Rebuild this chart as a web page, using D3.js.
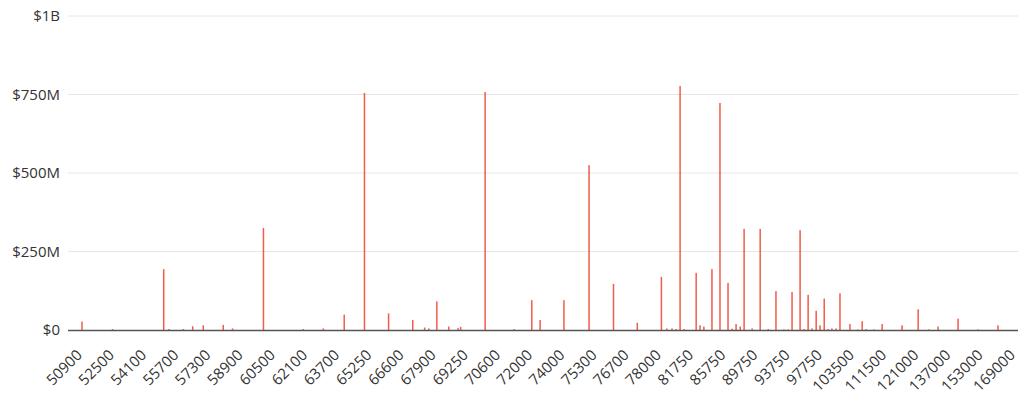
<!DOCTYPE html>
<html><head><meta charset="utf-8">
<script src="https://cdn.jsdelivr.net/npm/d3@7"></script>
<style>body{margin:0;background:#fff}text{font-family:"Open Sans",sans-serif}</style>
</head><body><svg id="c" width="1024" height="411"></svg>
<script>
const tickLabels=["50900","52500","54100","55700","57300","58900","60500","62100","63700","65250","66600","67900","69250","70600","72000","74000","75300","76700","78000","81750","85750","89750","93750","97750","103500","111500","121000","137000","153000","169000"];
// bar position in tick-label units (0 = first label), value in dollars (millions)
const barPos=[0,0.95,2.54,2.70,3.15,3.44,3.77,4.39,4.68,5.64,6.88,7.50,8.15,8.78,9.53,10.28,10.65,10.78,11.03,11.40,11.69,11.77,12.53,13.43,13.98,14.24,14.98,15.76,16.52,17.26,18.01,18.18,18.34,18.47,18.59,18.72,19.09,19.21,19.33,19.58,19.83,20.08,20.21,20.33,20.46,20.58,20.83,21.08,21.33,21.57,21.82,21.95,22.07,22.32,22.44,22.57,22.69,22.82,22.94,23.07,23.19,23.31,23.44,23.56,23.87,24.12,24.25,24.37,24.62,24.87,25.49,25.99,26.32,26.61,27.23,27.85,28.47];
const barVal=[27,3,194,3,3,12,15,16,5,325,3,5,49,755,53,32,8,5,91,11,6,10,758,3,95,32,95,525,147,23,169,5,5,3,777,3,182,15,11,194,723,150,4,19,11,322,5,322,3,124,2,2,121,318,3,112,5,61,15,100,3,5,5,117,19,2,28,3,2,19,15,66,2,11,36,2,15];
const yTicks=[0,250,500,750,1000];
const yLab={0:"$0",250:"$250M",500:"$500M",750:"$750M",1000:"$1B"};
const svg=d3.select("#c");
const L=68,R=1018;
const y=d3.scaleLinear().domain([0,1000]).range([330,16]);
const xp=d3.scalePoint().domain(tickLabels).range([82,1015]);
const xu=d3.scaleLinear().domain([0,tickLabels.length-1]).range([82,1015]);
svg.append("g").selectAll("line").data(yTicks.filter(d=>d>0)).join("line")
 .attr("x1",L).attr("x2",R).attr("y1",d=>y(d)).attr("y2",d=>y(d)).attr("stroke","#e6e6e6");
svg.append("g").selectAll("text").data(yTicks).join("text")
 .attr("x",60).attr("y",d=>y(d)+5).attr("text-anchor","end").attr("font-size",15).attr("fill","#333").text(d=>yLab[d]);
svg.append("g").selectAll("rect").data(barPos.map((p,i)=>[p,barVal[i]])).join("rect")
 .attr("x",d=>xu(d[0])-0.75).attr("width",1.5).attr("y",d=>y(d[1])).attr("height",d=>330-y(d[1]))
 .attr("fill","#f0402e").attr("opacity",0.85);
svg.append("line").attr("x1",L).attr("x2",R).attr("y1",330.5).attr("y2",330.5).attr("stroke","#555").attr("stroke-width",1.5);
svg.append("g").selectAll("text").data(tickLabels).join("text")
 .attr("transform",d=>`translate(${xp(d)+1},${356}) rotate(-45)`).attr("text-anchor","end")
 .attr("font-size",15).attr("fill","#333").text(d=>d);
</script></body></html>
